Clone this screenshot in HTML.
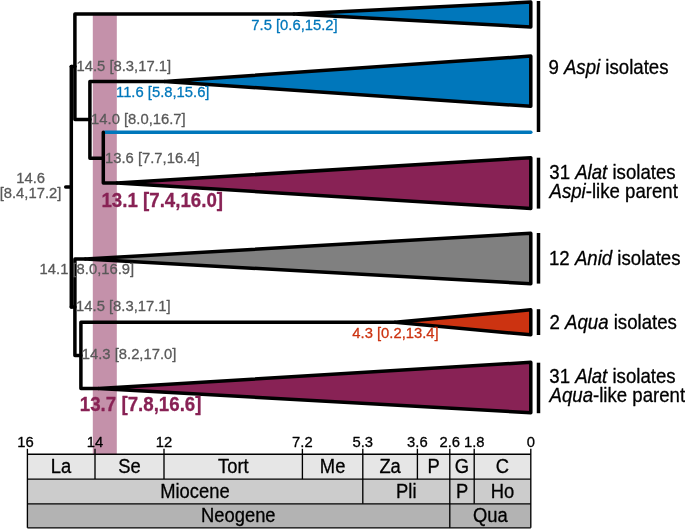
<!DOCTYPE html>
<html><head><meta charset="utf-8"><title>Dated phylogeny</title>
<style>
html,body{margin:0;padding:0;background:#fff;}
body{width:685px;height:529px;overflow:hidden;}
svg{display:block;}
text{font-family:"Liberation Sans",Arial,sans-serif;stroke-width:0.3px;stroke-linejoin:round;}
.g{fill:#595959;stroke:#595959;font-size:15.5px;}
.b{fill:#0077BB;stroke:#0077BB;font-size:15.5px;}
.r{fill:#CC3311;stroke:#CC3311;font-size:15.5px;}
.p{fill:#882255;stroke:#882255;font-size:19.7px;font-weight:bold;}
.l{fill:#000;stroke:#000;font-size:19.6px;}
.a{fill:#000;stroke:#000;font-size:15.5px;text-anchor:middle;}
.s{fill:#000;stroke:#000;font-size:19.6px;text-anchor:middle;}
.i{font-style:italic;}
</style></head><body>
<svg width="685" height="529" viewBox="0 0 685 529">
<rect width="685" height="529" fill="#fff"/>

<rect x="92.8" y="13.8" width="24" height="440.5" fill="#C491AA"/>
<path d="M104.8 132.3H530.8" stroke="#0077BB" stroke-width="3.5" stroke-linecap="round" fill="none"/>
<g fill="none" stroke="#000" stroke-width="3.5" stroke-linecap="round" stroke-linejoin="round">
<path d="M65.7 187.1H71.3"/>
<path d="M71.3 66.5V307"/>
<path d="M71.3 66.5H74.9"/>
<path d="M71.3 307H74.9"/>
<path d="M294 14H74.9V119.5H89.9"/>
<path d="M165 81.5H89.9V158.3H103.3"/>
<path d="M117 183H103.3V132.3"/>
<path d="M85.4 259H74.9V355.5H80.9"/>
<path d="M395 322.3H80.9V388.4H98.5"/>
</g>
<path d="M294 14L530.8 2.1V26.9Z" fill="#0077BB" stroke="#000" stroke-width="3.5" stroke-linejoin="round"/>
<path d="M164.5 81.5L530.8 56.1V106.3Z" fill="#0077BB" stroke="#000" stroke-width="3.5" stroke-linejoin="round"/>
<path d="M117 183L530.8 157.7V208.5Z" fill="#882255" stroke="#000" stroke-width="3.5" stroke-linejoin="round"/>
<path d="M85.4 259L530.8 233.3V283.7Z" fill="#808080" stroke="#000" stroke-width="3.5" stroke-linejoin="round"/>
<path d="M395 322.3L530.8 309.8V334.8Z" fill="#CC3311" stroke="#000" stroke-width="3.5" stroke-linejoin="round"/>
<path d="M98.5 388.4L530.8 362.3V412.7Z" fill="#882255" stroke="#000" stroke-width="3.5" stroke-linejoin="round"/>
<g stroke="#000" stroke-width="3.5" fill="none">
<path d="M538.5 1V132"/>
<path d="M538.5 157.7V208.6"/>
<path d="M538.5 233V283.6"/>
<path d="M538.5 309.2V335"/>
<path d="M538.5 362.7V413.2"/>
</g>
<text class="b" transform="translate(251.3 30.2) scale(0.955 1)">7.5 [0.6,15.2]</text>
<text class="g" transform="translate(76.5 70.9) scale(0.955 1)">14.5 [8.3,17.1]</text>
<text class="b" transform="translate(116.0 96.6) scale(0.955 1)">11.6 [5.8,15.6]</text>
<text class="g" transform="translate(91.1 124.4) scale(0.955 1)">14.0 [8.0,16.7]</text>
<text class="g" transform="translate(105.0 162.8) scale(0.955 1)">13.6 [7.7,16.4]</text>
<text class="g" transform="translate(30.7 183) scale(0.955 1)" text-anchor="middle">14.6</text>
<text class="g" transform="translate(30.5 198.4) scale(0.955 1)" text-anchor="middle">[8.4,17.2]</text>
<text class="p" transform="translate(101.4 206.8) scale(0.95 1)">13.1 [7.4,16.0]</text>
<text class="g" transform="translate(39.6 274.0) scale(0.955 1)">14.1 [8.0,16.9]</text>
<text class="g" transform="translate(76.1 311) scale(0.955 1)">14.5 [8.3,17.1]</text>
<text class="g" transform="translate(81.8 359) scale(0.955 1)">14.3 [8.2,17.0]</text>
<text class="r" transform="translate(352.3 338.1) scale(0.955 1)">4.3 [0.2,13.4]</text>
<text class="p" transform="translate(79.8 410.5) scale(0.95 1)">13.7 [7.8,16.6]</text>
<text class="l" transform="translate(548.4 74) scale(0.951 1)">9 <tspan class="i">Aspi</tspan> isolates</text>
<text class="l" transform="translate(549.3 178.7) scale(0.951 1)">31 <tspan class="i">Alat</tspan> isolates</text>
<text class="l" transform="translate(549.5 197.6) scale(0.951 1)"><tspan class="i">Aspi</tspan>-like parent</text>
<text class="l" transform="translate(549.0 265) scale(0.951 1)">12 <tspan class="i">Anid</tspan> isolates</text>
<text class="l" transform="translate(549.5 328.8) scale(0.951 1)">2 <tspan class="i">Aqua</tspan> isolates</text>
<text class="l" transform="translate(549.3 383.0) scale(0.951 1)">31 <tspan class="i">Alat</tspan> isolates</text>
<text class="l" transform="translate(549.5 402.2) scale(0.951 1)"><tspan class="i">Aqua</tspan>-like parent</text>
<rect x="27.4" y="454.2" width="503.4" height="24.900000000000034" fill="#E6E6E6"/>
<rect x="27.4" y="479.1" width="503.4" height="24.69999999999999" fill="#CCCCCC"/>
<rect x="27.4" y="503.8" width="503.4" height="23.999999999999943" fill="#B3B3B3"/>
<g stroke="#000" stroke-width="1.35" fill="none">
<path d="M27.4 454.2H530.8M27.4 479.1H530.8M27.4 503.8H530.8M27.4 527.8H530.8"/>
<path d="M27.4 448.8V527.8"/>
<path d="M95 448.8V479.1"/>
<path d="M164 448.8V479.1"/>
<path d="M302.4 448.8V479.1"/>
<path d="M362.8 448.8V503.8"/>
<path d="M417.4 448.8V479.1"/>
<path d="M449.8 448.8V527.8"/>
<path d="M474.2 448.8V503.8"/>
<path d="M530.8 448.8V527.8"/>
</g>
<text class="a" transform="translate(25.4 446.7) scale(0.955 1)">16</text>
<text class="a" transform="translate(95 446.7) scale(0.955 1)">14</text>
<text class="a" transform="translate(164 446.7) scale(0.955 1)">12</text>
<text class="a" transform="translate(302.4 446.7) scale(0.955 1)">7.2</text>
<text class="a" transform="translate(362.8 446.7) scale(0.955 1)">5.3</text>
<text class="a" transform="translate(417.4 446.7) scale(0.955 1)">3.6</text>
<text class="a" transform="translate(449.8 446.7) scale(0.955 1)">2.6</text>
<text class="a" transform="translate(474.2 446.7) scale(0.955 1)">1.8</text>
<text class="a" transform="translate(530.8 446.7) scale(0.955 1)">0</text>
<text class="s" transform="translate(61 473.0) scale(0.937 1)">La</text>
<text class="s" transform="translate(129.5 473.0) scale(0.937 1)">Se</text>
<text class="s" transform="translate(233.3 473.0) scale(0.937 1)">Tort</text>
<text class="s" transform="translate(332.6 473.0) scale(0.937 1)">Me</text>
<text class="s" transform="translate(390.1 473.0) scale(0.937 1)">Za</text>
<text class="s" transform="translate(433.6 473.0) scale(0.937 1)">P</text>
<text class="s" transform="translate(462 473.0) scale(0.937 1)">G</text>
<text class="s" transform="translate(502.5 473.0) scale(0.937 1)">C</text>
<text class="s" transform="translate(194.9 498.2) scale(0.937 1)">Miocene</text>
<text class="s" transform="translate(406.3 498.2) scale(0.937 1)">Pli</text>
<text class="s" transform="translate(462 498.2) scale(0.937 1)">P</text>
<text class="s" transform="translate(502.5 498.2) scale(0.937 1)">Ho</text>
<text class="s" transform="translate(238.3 522.2) scale(0.937 1)">Neogene</text>
<text class="s" transform="translate(490.3 522.2) scale(0.937 1)">Qua</text>
</svg></body></html>
